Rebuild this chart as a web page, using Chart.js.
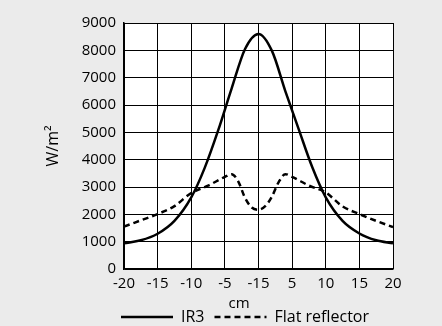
<!DOCTYPE html>
<html>
<head>
<meta charset="utf-8">
<script src="https://cdn.jsdelivr.net/npm/chart.js@4/dist/chart.umd.min.js"></script>
<style>
  html, body { margin: 0; padding: 0; background: #ebebeb; }
  #wrap { width: 442px; height: 326px; }
</style>
</head>
<body>
<div id="wrap"><canvas id="c" width="442" height="326"></canvas></div>
<script>
// Irradiance profiles across the heated surface
const ir3X = [-20, -17.5, -15, -12.5, -10, -8, -6, -4, -2, 0, 2, 4, 6, 8, 10, 12.5, 15, 17.5, 20];
const ir3Y = [940, 1050, 1290, 1760, 2620, 3700, 5070, 6600, 8050, 8600, 7980, 6500, 5100, 3720, 2620, 1760, 1300, 1050, 940];

const flatX = [-20, -17.5, -15, -12.5, -10, -7.5, -5, -4, -3, -2, -1, 0, 1, 2, 3, 4, 5, 7.5, 10, 12.5, 15, 17.5, 20];
const flatY = [1550, 1780, 2010, 2300, 2780, 3050, 3370, 3470, 3200, 2600, 2250, 2170, 2300, 2650, 3180, 3470, 3370, 3050, 2800, 2290, 2010, 1760, 1530];

const xTickLabels = ['-20', '-15', '-10', '-5', '-15', '5', '10', '15', '20'];
const yTicks = [0, 1000, 2000, 3000, 4000, 5000, 6000, 7000, 8000, 9000];

const seriesNames = ['IR3', 'Flat reflector'];

const FONT = '"Open Sans", Lato, sans-serif';
const FONT_SIZE = 15;

const toPoints = (xs, ys) => xs.map((x, i) => ({ x: x, y: ys[i] }));

// white plotting area on the grey page
const plotBackground = {
  id: 'plotBackground',
  beforeDraw(chart) {
    const { ctx, chartArea: a } = chart;
    ctx.save();
    ctx.fillStyle = '#ffffff';
    ctx.fillRect(a.left, a.top, a.right - a.left, a.bottom - a.top);
    ctx.restore();
  }
};

new Chart(document.getElementById('c'), {
  type: 'line',
  data: {
    datasets: [
      {
        label: seriesNames[0],
        data: toPoints(ir3X, ir3Y),
        borderColor: '#000',
        backgroundColor: '#000',
        borderWidth: 2.5,
        pointRadius: 0,
        cubicInterpolationMode: 'monotone',
        fill: false
      },
      {
        label: seriesNames[1],
        data: toPoints(flatX, flatY),
        borderColor: '#000',
        backgroundColor: '#000',
        borderWidth: 2.5,
        borderDash: [6, 4],
        pointRadius: 0,
        cubicInterpolationMode: 'monotone',
        fill: false
      }
    ]
  },
  options: {
    responsive: false,
    animation: false,
    devicePixelRatio: 1,
    layout: { padding: { left: 48, right: 0, top: 23, bottom: -9 } },
    scales: {
      x: {
        type: 'linear',
        min: -20,
        max: 20,
        afterBuildTicks(scale) {
          scale.ticks = xTickLabels.map((_, i) => ({ value: -20 + i * 5 }));
        },
        ticks: {
          color: '#000',
          font: { family: FONT, size: FONT_SIZE, lineHeight: 1.2 },
          padding: 6,
          maxRotation: 0,
          autoSkip: false,
          callback: (v, i) => xTickLabels[i]
        },
        grid: { color: '#000', lineWidth: 1, drawTicks: false },
        border: { color: '#000', width: 1.5 },
        title: {
          display: true,
          text: 'cm\u00a0\u00a0\u00a0\u00a0\u00a0\u00a0\u00a0\u00a0\u00a0\u00a0',
          color: '#000',
          font: { family: FONT, size: FONT_SIZE, lineHeight: 1.2 },
          padding: { top: -4, bottom: -14 }
        }
      },
      y: {
        min: 0,
        max: 9000,
        afterBuildTicks(scale) {
          scale.ticks = yTicks.map(v => ({ value: v }));
        },
        afterFit(scale) { scale.width = 76; },
        ticks: {
          color: '#000',
          font: { family: FONT, size: FONT_SIZE },
          padding: 8,
          callback: v => String(v)
        },
        grid: { color: '#000', lineWidth: 1, drawTicks: false },
        border: { color: '#000', width: 1.5 },
        title: {
          display: true,
          text: 'W/m²',
          color: '#000',
          font: { family: FONT, size: 16, lineHeight: 1 },
          padding: { top: -3, bottom: 0 }
        }
      },
      // empty right-hand gutter
      yRight: {
        position: 'right',
        min: 0,
        max: 9000,
        afterFit(scale) { scale.width = 49; },
        ticks: { display: false },
        grid: { display: false, drawOnChartArea: false },
        border: { display: false }
      }
    },
    plugins: {
      legend: {
        position: 'bottom',
        labels: {
          color: '#000',
          font: { family: FONT, size: 16 },
          usePointStyle: true,
          pointStyle: 'line',
          pointStyleWidth: 52,
          padding: 10,
          generateLabels(chart) {
            const items = Chart.defaults.plugins.legend.labels.generateLabels(chart);
            items.forEach(item => {
              const ds = chart.data.datasets[item.datasetIndex];
              item.lineDash = ds.borderDash || [];
              item.lineWidth = ds.borderWidth;
              item.strokeStyle = ds.borderColor;
            });
            return items;
          }
        }
      },
      tooltip: { enabled: false }
    }
  },
  plugins: [plotBackground]
});
</script>
</body>
</html>
